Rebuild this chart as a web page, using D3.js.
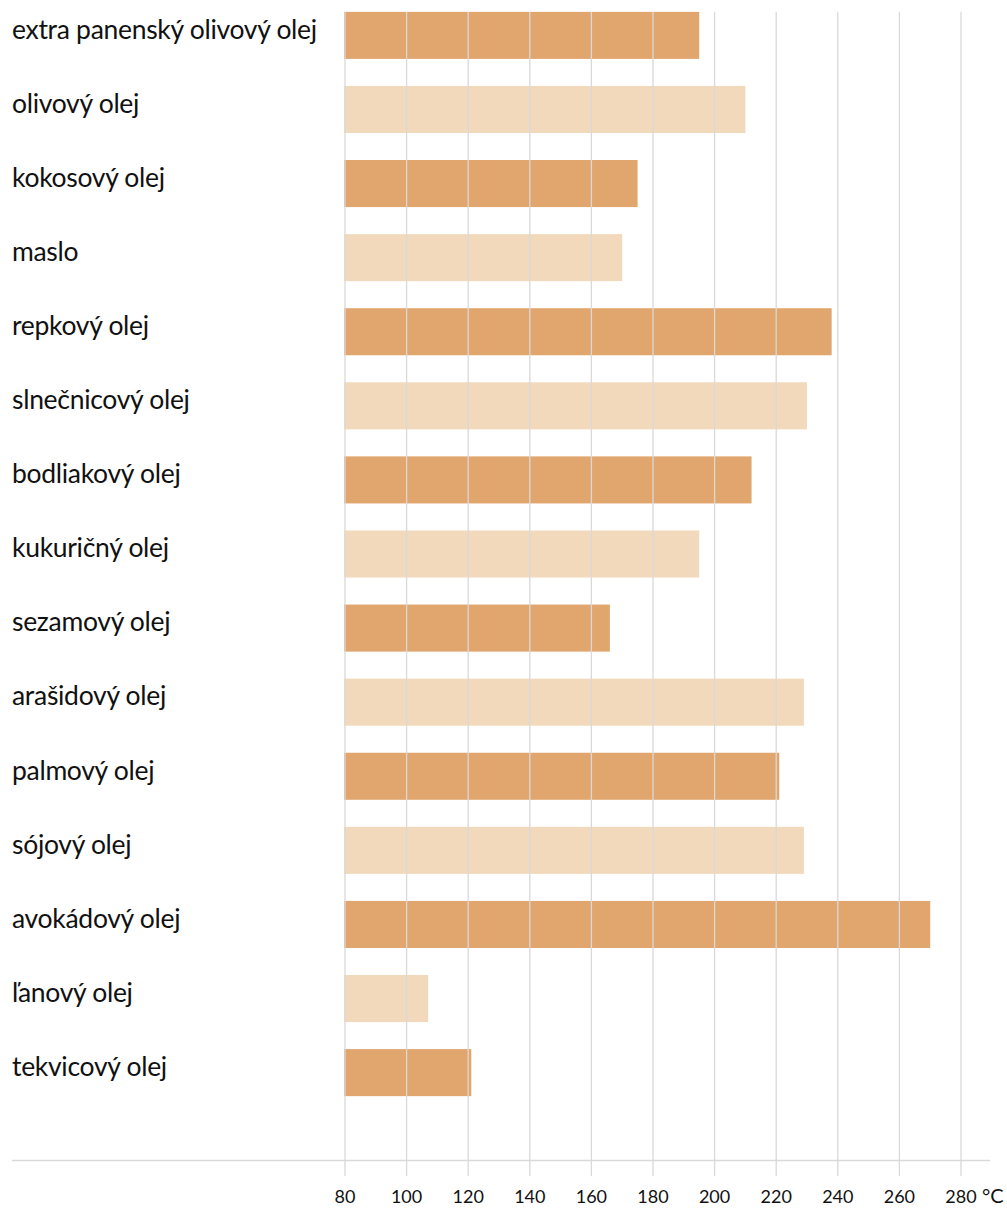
<!DOCTYPE html>
<html>
<head>
<meta charset="utf-8">
<script src="https://cdn.jsdelivr.net/npm/d3@7"></script>
<style>
    body { margin: 0; background: #fff; }
    #chart text { font-family: Lato, "Open Sans", sans-serif; fill: #111; }
</style>
</head>
<body>
<div id="chart"></div>
<script>
// Oils and their smoke points (°C)
const oils = [
    "extra panenský olivový olej", "olivový olej", "kokosový olej", "maslo",
    "repkový olej", "slnečnicový olej", "bodliakový olej", "kukuričný olej",
    "sezamový olej", "arašidový olej", "palmový olej", "sójový olej",
    "avokádový olej", "ľanový olej", "tekvicový olej"
];
const smokePoints = [195, 210, 175, 170, 238, 230, 212, 195, 166, 229, 221, 229, 270, 107, 121];
const tickValues = [80, 100, 120, 140, 160, 180, 200, 220, 240, 260, 280];

const width = 1007, height = 1208;

const svg = d3.select('#chart')
    .append('svg')
    .attr('width', width)
    .attr('height', height);

// Scales
const x = d3.scaleLinear()
    .domain([80, 280])
    .range([345, 961]);

const y = d3.scaleBand()
    .domain(oils)
    .range([0, 1108])
    .paddingInner(0.365)
    .paddingOuter(0.16);

// Bars (alternating colours)
svg.append('g')
    .selectAll('rect')
    .data(oils)
    .enter()
    .append('rect')
    .attr('x', x(80) - 1)
    .attr('y', d => y(d))
    .attr('width', (d, i) => x(smokePoints[i]) - x(80) + 1)
    .attr('height', y.bandwidth())
    .attr('fill', (d, i) => i % 2 === 0 ? '#e0a66e' : '#f2d9bc');

// Grid lines, drawn over the bars
svg.append('g')
    .selectAll('line')
    .data(tickValues)
    .enter()
    .append('line')
    .attr('x1', d => x(d))
    .attr('x2', d => x(d))
    .attr('y1', y(oils[0]))
    .attr('y2', 1176)
    .attr('stroke', '#d9d9d9')
    .attr('stroke-width', 1.3);

// Baseline
svg.append('line')
    .attr('x1', 12)
    .attr('x2', 990)
    .attr('y1', 1160.5)
    .attr('y2', 1160.5)
    .attr('stroke', '#d9d9d9')
    .attr('stroke-width', 1.3);

// Category labels
svg.append('g')
    .selectAll('text')
    .data(oils)
    .enter()
    .append('text')
    .attr('x', 12)
    .attr('y', d => y(d) + y.bandwidth() / 2 - 6)
    .attr('dy', '0.35em')
    .style('font-size', '26.5px')
    .style('letter-spacing', '-0.3px')
    .text(d => d);

// Tick labels
svg.append('g')
    .selectAll('text')
    .data(tickValues)
    .enter()
    .append('text')
    .attr('x', d => x(d))
    .attr('y', 1203)
    .attr('text-anchor', 'middle')
    .style('font-size', '18px')
    .text(d => d);

svg.append('text')
    .attr('x', x(280) + 21)
    .attr('y', 1203)
    .attr('text-anchor', 'start')
    .style('font-size', '20px')
    .text('°C');
</script>
</body>
</html>
